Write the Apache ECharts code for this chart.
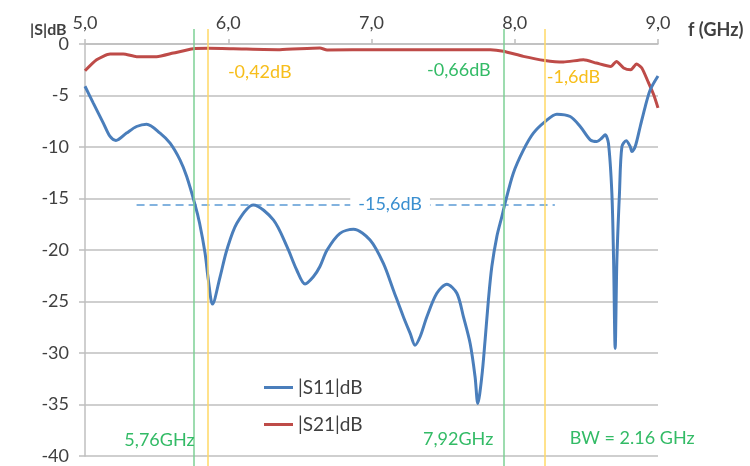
<!DOCTYPE html>
<html>
<head>
<meta charset="utf-8">
<script src="https://cdn.jsdelivr.net/npm/echarts@6/dist/echarts.min.js"></script>
<style>
html,body{margin:0;padding:0;background:#fff;}
#chart{width:750px;height:466px;}
</style>
</head>
<body>
<div id="chart"></div>
<script>
// ---- data ----
var s11Freq = [5.00,5.058,5.128,5.175,5.216,5.29,5.36,5.43,5.524,5.594,5.663,5.71,5.768,5.80,5.838,5.861,5.89,5.943,5.99,6.06,6.175,6.315,6.41,6.478,6.536,6.594,6.64,6.69,6.78,6.874,6.99,7.083,7.153,7.223,7.27,7.304,7.34,7.386,7.456,7.526,7.596,7.642,7.689,7.723,7.742,7.77,7.793,7.816,7.84,7.875,7.91,7.93,7.99,8.061,8.13,8.212,8.294,8.387,8.457,8.527,8.573,8.61,8.631,8.654,8.678,8.69,8.701,8.713,8.731,8.748,8.778,8.806,8.818,8.841,8.876,8.911,8.946,9.0];
var s11Db = [-4.1,-5.74,-7.68,-8.98,-9.37,-8.65,-8.01,-7.78,-8.65,-9.63,-11.25,-12.87,-15.6,-17.4,-20.3,-22.9,-25.25,-22.6,-20.0,-17.4,-15.62,-17.08,-19.68,-21.94,-23.3,-22.6,-21.6,-20.0,-18.38,-17.99,-19.03,-21.3,-23.9,-26.5,-28.1,-29.24,-28.4,-26.5,-24.2,-23.33,-24.2,-26.5,-29.1,-32.3,-34.9,-32.3,-28.75,-24.86,-21.6,-18.7,-16.76,-15.6,-12.54,-10.28,-8.65,-7.53,-6.81,-7.04,-8.01,-9.3,-9.47,-9.1,-8.82,-9.63,-14.5,-20.97,-29.56,-20.97,-14.5,-9.96,-9.4,-9.96,-10.44,-9.96,-8.01,-6.07,-4.44,-3.1];
var s21Freq = [5.00,5.081,5.175,5.267,5.36,5.5,5.617,5.756,5.86,6.036,6.36,6.64,6.69,7.04,7.83,7.92,8.06,8.21,8.34,8.48,8.57,8.67,8.71,8.76,8.81,8.85,8.887,8.93,8.97,9.0];
var s21Db = [-2.6,-1.53,-0.97,-0.97,-1.23,-1.23,-0.88,-0.46,-0.42,-0.46,-0.55,-0.39,-0.58,-0.55,-0.55,-0.7,-1.2,-1.6,-1.75,-1.53,-1.85,-2.18,-1.69,-2.33,-2.5,-1.94,-2.33,-3.64,-4.93,-6.2];
var seriesNames = ['|S11|dB', '|S21|dB'];
var yTitle = '|S|dB';
var xTitle = 'f (GHz)';
var xTicks = [5, 6, 7, 8, 9];
var yTicks = [0, -5, -10, -15, -20, -25, -30, -35, -40];
var bandEdges = [5.76, 7.92];      // green markers
var outerEdges = [5.86, 8.21];     // yellow markers
var refLevel = -15.6;
var refSpan = [5.36, 8.28];
var refLabel = {text: '-15,6dB', f: 7.13};
var notes = [
  {text: '-0,42dB', f: 6.22, db: -2.7, kind: 'y'},
  {text: '-0,66dB', f: 7.61, db: -2.5, kind: 'g'},
  {text: '-1,6dB', f: 8.41, db: -3.2, kind: 'y'},
  {text: '5,76GHz', f: 5.52, db: -38.5, kind: 'g'},
  {text: '7,92GHz', f: 7.605, db: -38.4, kind: 'g'},
  {text: 'BW = 2.16 GHz', f: 8.82, db: -38.3, kind: 'g'}
];

var FONT = 'Lato';
var GREEN_TXT = '#33BB66', YELLOW_TXT = '#F7BE1B';
var GREEN_LN = '#7DD094', YELLOW_LN = '#FFD966';

function pairs(xs, ys){ return xs.map(function(x,i){ return [x, ys[i]]; }); }
function commaFmt(v){ return v.toFixed(1).replace('.', ','); }

var chart = echarts.init(document.getElementById('chart'), null, {renderer:'canvas'});
var option = {
  animation: false,
  backgroundColor: '#fff',
  textStyle: {fontFamily: FONT},
  title: {
    text: yTitle, left: 30, top: 22, padding: 0,
    textStyle: {fontFamily: FONT, fontSize: 16, fontWeight: 'bold', color: '#404040'}
  },
  grid: [
    {left: 85, right: 92, top: 44, bottom: 10, containLabel: false},
    {left: 85, right: 92, top: 29, bottom: 0, containLabel: false}
  ],
  legend: {
    orient: 'vertical', left: 259, top: 371,
    icon: 'rect', itemWidth: 29, itemHeight: 3, itemGap: 14,
    data: seriesNames,
    textStyle: {fontFamily: FONT, fontSize: 19, color: '#404040', lineHeight: 23}
  },
  xAxis: [{
    type: 'value', gridIndex: 0, position: 'top',
    min: 5, max: 9, interval: 1,
    name: xTitle, nameLocation: 'end', nameGap: 30,
    nameTextStyle: {fontFamily: FONT, fontSize: 18, fontWeight: 'bold', color: '#404040', verticalAlign: 'bottom', padding: [0,0,5,0]},
    axisLine: {show: true, onZero: false, lineStyle: {color: '#BFBFBF', width: 1.5}},
    axisTick: {show: true, inside: false, length: 5, lineStyle: {color: '#BFBFBF', width: 1.5}},
    axisLabel: {fontFamily: FONT, fontSize: 18, color: '#404040', margin: 12, formatter: function(v){ return xTicks.indexOf(v) >= 0 ? commaFmt(v) : ''; }},
    splitLine: {show: false}
  }, {
    type: 'value', gridIndex: 1, min: 5, max: 9, show: false
  }],
  yAxis: [{
    type: 'value', gridIndex: 0, min: -40, max: 0, interval: 5,
    axisLine: {show: true, onZero: false, lineStyle: {color: '#BFBFBF', width: 1.5}},
    axisTick: {show: true, length: 6, lineStyle: {color: '#BFBFBF', width: 1.5}},
    axisLabel: {fontFamily: FONT, fontSize: 18, color: '#404040', margin: 16, formatter: function(v){ return yTicks.indexOf(v) >= 0 ? String(v) : ''; }},
    splitLine: {show: true, lineStyle: {color: '#BFBFBF', width: 1.5}}
  }, {
    type: 'value', gridIndex: 1, min: 0, max: 1, show: false
  }],
  series: [
    {
      name: seriesNames[1], type: 'line', xAxisIndex: 0, yAxisIndex: 0,
      data: pairs(s21Freq, s21Db), symbol: 'none', smooth: 0.2, z: 3,
      lineStyle: {color: '#BE4B48', width: 3}, itemStyle: {color: '#BE4B48'}
    },
    {
      name: seriesNames[0], type: 'line', xAxisIndex: 0, yAxisIndex: 0,
      data: pairs(s11Freq, s11Db), symbol: 'none', smooth: 0.3, z: 4,
      lineStyle: {color: '#4A7EBB', width: 3}, itemStyle: {color: '#4A7EBB'},
      markLine: {
        silent: true, symbol: ['none','none'], z: 2,
        label: {show: false},
        lineStyle: {type: [8,5], color: '#5B9BD5', width: 1.5},
        data: [[{coord: [refSpan[0], refLevel]}, {coord: [refSpan[1], refLevel]}]]
      }
    },
    {
      name: 'annotations', type: 'line', xAxisIndex: 0, yAxisIndex: 0, data: [],
      symbol: 'none', z: 6,
      markPoint: {
        silent: true, symbol: 'rect', symbolSize: 1, z: 6,
        itemStyle: {color: 'rgba(0,0,0,0)'},
        data: [{
          coord: [refLabel.f, refLevel], value: refLabel.text,
          label: {show: true, position: 'inside', formatter: refLabel.text, color: '#3A8FD0', fontFamily: FONT, fontSize: 18, backgroundColor: '#fff', padding: [3, 8, 3, 8]}
        }].concat(notes.map(function(n){
          return {coord: [n.f, n.db], value: n.text,
            label: {show: true, position: 'inside', formatter: n.text, color: n.kind === 'g' ? GREEN_TXT : YELLOW_TXT, fontFamily: FONT, fontSize: 18}};
        }))
      }
    },
    {
      name: 'markers', type: 'line', xAxisIndex: 1, yAxisIndex: 1, data: [],
      symbol: 'none', z: 1,
      markLine: {
        silent: true, symbol: ['none','none'], label: {show: false},
        data: bandEdges.map(function(f){ return {xAxis: f, lineStyle: {color: GREEN_LN, width: 1.5, type: 'solid'}}; })
          .concat(outerEdges.map(function(f){ return {xAxis: f, lineStyle: {color: YELLOW_LN, width: 1.5, type: 'solid'}}; }))
      }
    }
  ]
};
chart.setOption(option);
</script>
</body>
</html>
